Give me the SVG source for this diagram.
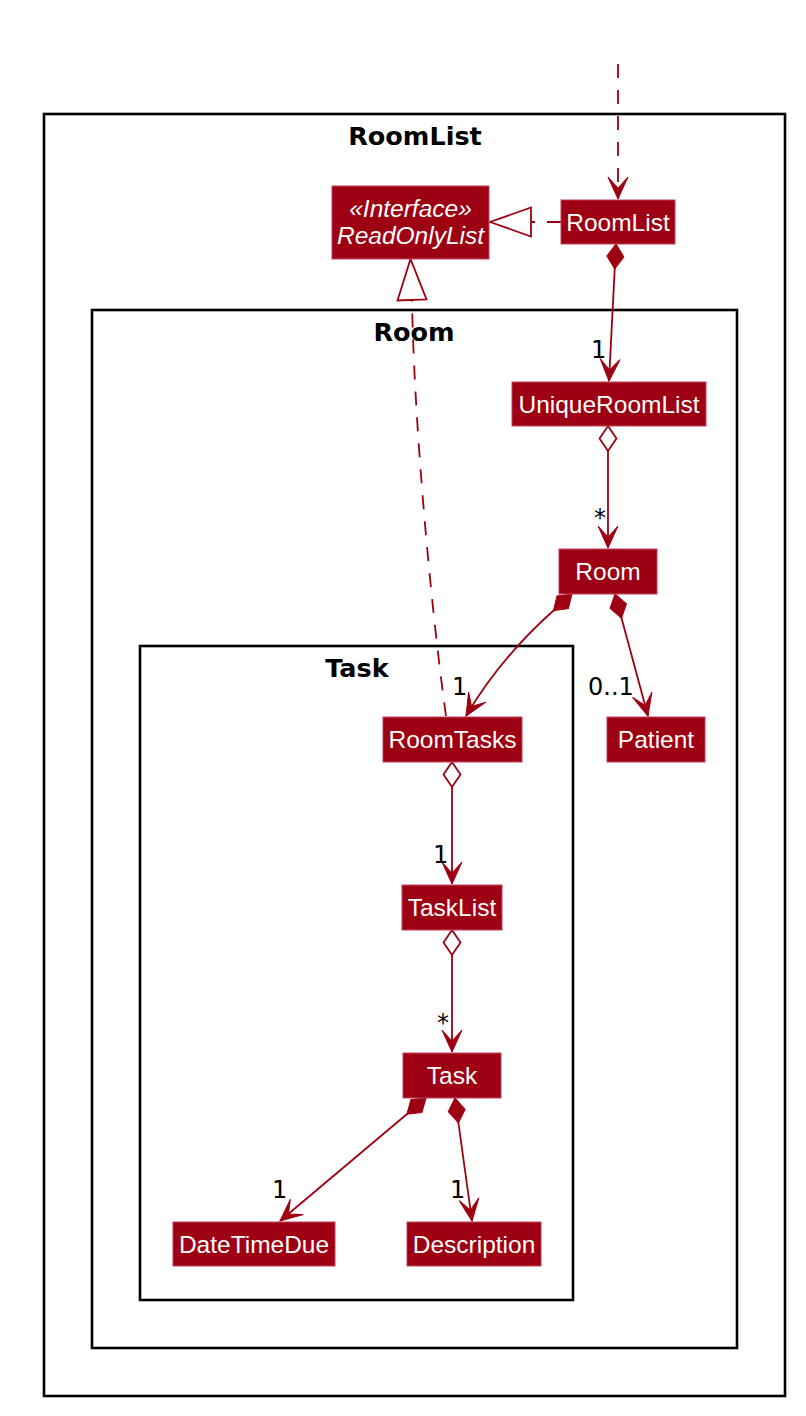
<svg xmlns="http://www.w3.org/2000/svg" width="806" height="1416" viewBox="0 0 806 1416">
<style>
.frame{fill:none;stroke:#000;stroke-width:2.6}
.ftitle{font-family:"DejaVu Sans",sans-serif;font-weight:bold;font-size:25.5px;fill:#000;text-anchor:middle}
.box{fill:#9D0012;stroke:#C04060;stroke-width:1}
.ntext{font-family:"Liberation Sans",Arial,sans-serif;font-size:24.5px;fill:#fff;text-anchor:middle}
.itext{font-style:italic}
.link{fill:none;stroke:#9D0012;stroke-width:1.8}
.dash{stroke-dasharray:14,12}
.lbl{font-family:"DejaVu Sans",sans-serif;font-size:24px;fill:#000}
</style>
<defs>
<marker id="arr" viewBox="-24 -12 26 24" refX="0" refY="0" markerWidth="26" markerHeight="24" markerUnits="userSpaceOnUse" orient="auto">
<path d="M0,0 L-22,-10 L-11,0 L-22,10 Z" fill="#9D0012" stroke="#9D0012" stroke-width="1"/>
</marker>
<marker id="dia" viewBox="-2 -10 29 20" refX="0" refY="0" markerWidth="29" markerHeight="20" markerUnits="userSpaceOnUse" orient="auto">
<path d="M0,0 L12.5,-8.5 L25,0 L12.5,8.5 Z" fill="#9D0012" stroke="#9D0012" stroke-width="1"/>
</marker>
<marker id="odia" viewBox="-2 -10 29 20" refX="0" refY="0" markerWidth="29" markerHeight="20" markerUnits="userSpaceOnUse" orient="auto">
<path d="M0,0 L12.5,-8.5 L25,0 L12.5,8.5 Z" fill="#fff" stroke="#9D0012" stroke-width="1.8"/>
</marker>
<marker id="tri" viewBox="-43 -17 46 34" refX="0" refY="0" markerWidth="46" markerHeight="34" markerUnits="userSpaceOnUse" orient="auto">
<path d="M0,0 L-41,-14.5 L-41,14.5 Z" fill="#fff" stroke="#9D0012" stroke-width="1.8"/>
</marker>
</defs>
<rect width="806" height="1416" fill="#fff"/>
<g id="pkg-RoomList">
<rect class="frame" x="44" y="114" width="741" height="1282"/>
<text class="ftitle" x="415" y="145">RoomList</text>
</g>
<g id="pkg-Room">
<rect class="frame" x="92" y="310" width="645" height="1038"/>
<text class="ftitle" x="414" y="341">Room</text>
</g>
<g id="pkg-Task">
<rect class="frame" x="140" y="646" width="433" height="654"/>
<text class="ftitle" x="357" y="677">Task</text>
</g>
<g id="connectors">
<path class="link dash" d="M618,64 L618,199" marker-end="url(#arr)"/>
<path class="link dash" d="M561,222 L490,222" marker-end="url(#tri)"/>
<path class="link dash" d="M446,716 C430,600 414,420 412,300 L410.5,259" marker-end="url(#tri)"/>
<path class="link" d="M616,244 L609,381" marker-start="url(#dia)" marker-end="url(#arr)"/>
<path class="link" d="M608,426 L608,548" marker-start="url(#odia)" marker-end="url(#arr)"/>
<path class="link" d="M572,594 L553,611 C525,636 492,672 466,716" marker-start="url(#dia)" marker-end="url(#arr)"/>
<path class="link" d="M615,594 L648,716" marker-start="url(#dia)" marker-end="url(#arr)"/>
<path class="link" d="M452,762 L452,884" marker-start="url(#odia)" marker-end="url(#arr)"/>
<path class="link" d="M452,930 L452,1052" marker-start="url(#odia)" marker-end="url(#arr)"/>
<path class="link" d="M426,1098 L280,1221" marker-start="url(#dia)" marker-end="url(#arr)"/>
<path class="link" d="M455,1098 L472,1221" marker-start="url(#dia)" marker-end="url(#arr)"/>
<text class="lbl" x="591" y="358">1</text>
<text class="lbl" x="594" y="526">*</text>
<text class="lbl" x="452" y="695">1</text>
<text class="lbl" x="588" y="695">0..1</text>
<text class="lbl" x="433" y="863">1</text>
<text class="lbl" x="437" y="1031">*</text>
<text class="lbl" x="272" y="1198">1</text>
<text class="lbl" x="450" y="1198">1</text>
</g>
<g id="ReadOnlyList">
<rect class="box" x="332" y="186" width="157" height="73"/>
<text class="ntext itext" x="410.5" y="217">«Interface»</text>
<text class="ntext itext" x="410.5" y="244">ReadOnlyList</text>
</g>
<g id="RoomList">
<rect class="box" x="561" y="200" width="114" height="44"/>
<text class="ntext" x="618" y="231">RoomList</text>
</g>
<g id="UniqueRoomList">
<rect class="box" x="512" y="382" width="194" height="44"/>
<text class="ntext" x="609" y="413">UniqueRoomList</text>
</g>
<g id="Room">
<rect class="box" x="559" y="549" width="98" height="45"/>
<text class="ntext" x="608" y="580">Room</text>
</g>
<g id="Patient">
<rect class="box" x="607" y="717" width="98" height="45"/>
<text class="ntext" x="656" y="748">Patient</text>
</g>
<g id="RoomTasks">
<rect class="box" x="383" y="717" width="139" height="45"/>
<text class="ntext" x="452.5" y="748">RoomTasks</text>
</g>
<g id="TaskList">
<rect class="box" x="402" y="885" width="100" height="45"/>
<text class="ntext" x="452" y="916">TaskList</text>
</g>
<g id="Task">
<rect class="box" x="403" y="1053" width="98" height="45"/>
<text class="ntext" x="452" y="1084">Task</text>
</g>
<g id="DateTimeDue">
<rect class="box" x="173" y="1222" width="162" height="44"/>
<text class="ntext" x="254" y="1253">DateTimeDue</text>
</g>
<g id="Description">
<rect class="box" x="407" y="1222" width="134" height="44"/>
<text class="ntext" x="474" y="1253">Description</text>
</g>
</svg>
